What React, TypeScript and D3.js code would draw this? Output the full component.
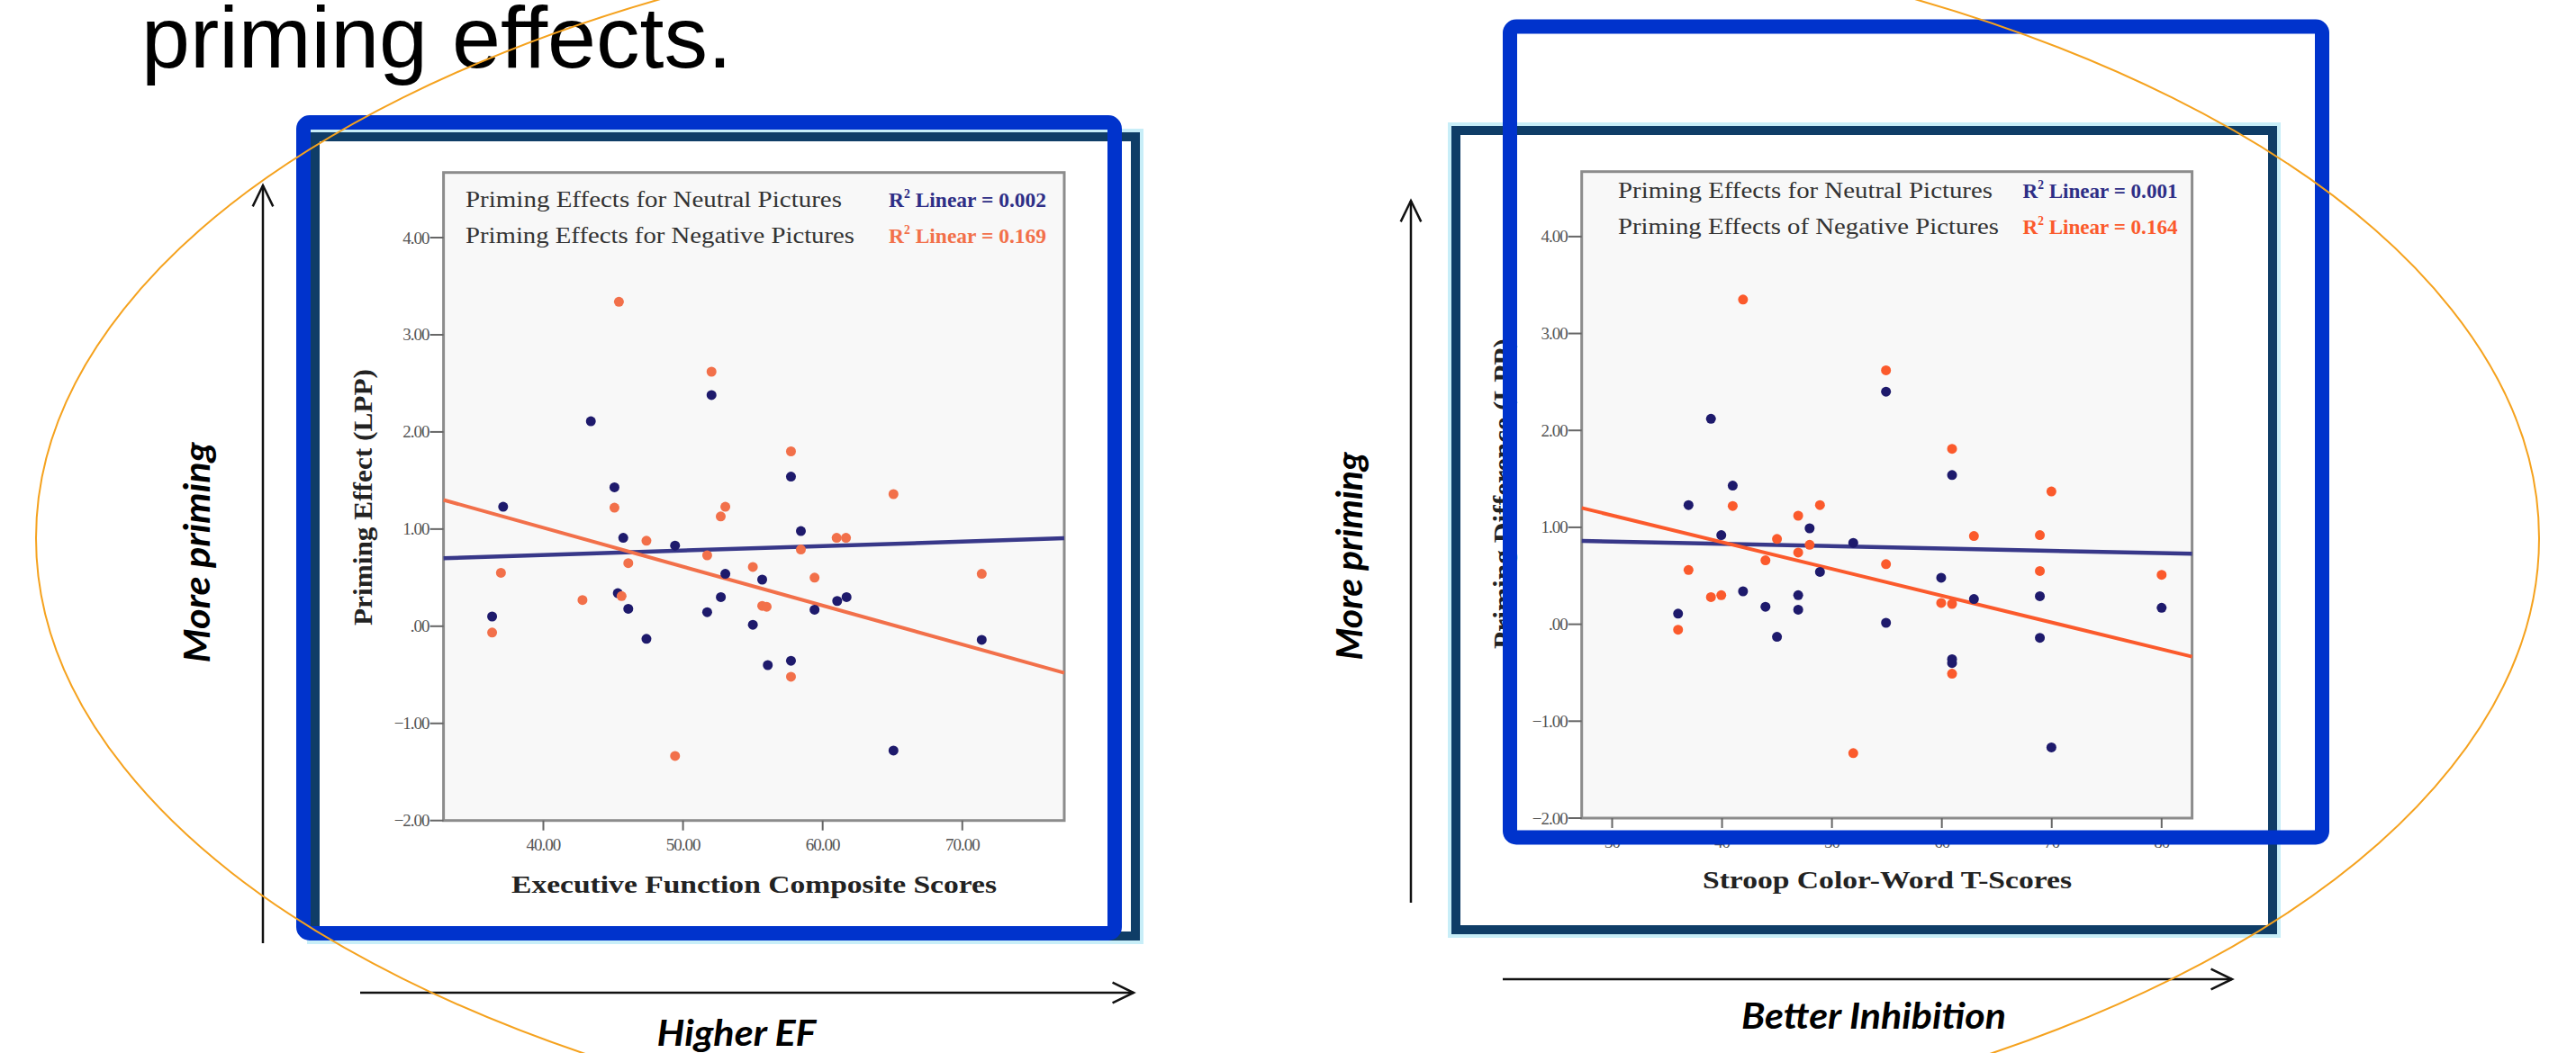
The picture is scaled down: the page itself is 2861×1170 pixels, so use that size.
import React from "react";
import * as d3 from "d3";

// values (x = score, y = LPP priming effect)
const efNeutral: [number, number][] = [
  [43.4, 2.11], [52.04, 2.38], [57.73, 1.54], [45.09, 1.43], [37.12, 1.23], [45.72, 0.91],
  [49.43, 0.83], [58.44, 0.98], [53.03, 0.54], [55.67, 0.48], [45.33, 0.34], [52.71, 0.3],
  [61.71, 0.3], [61.04, 0.26], [46.08, 0.18], [51.73, 0.145], [59.42, 0.17], [36.33, 0.1],
  [55.0, 0.015], [47.38, -0.13], [71.39, -0.14], [56.07, -0.4], [57.73, -0.355], [65.07, -1.28],
];
const efNegative: [number, number][] = [
  [45.41, 3.34], [52.04, 2.62], [57.73, 1.8], [45.09, 1.22], [53.03, 1.23], [52.7, 1.13],
  [65.07, 1.36], [47.38, 0.88], [51.73, 0.73], [61.0, 0.91], [61.67, 0.91], [58.44, 0.79],
  [36.96, 0.55], [46.08, 0.65], [55.0, 0.61], [59.42, 0.5], [42.8, 0.27], [45.6, 0.31],
  [55.67, 0.21], [55.99, 0.2], [36.33, -0.065], [57.73, -0.52], [49.43, -1.335], [71.39, 0.54],
];
const stroopNeutral: [number, number][] = [
  [38.99, 2.12], [54.92, 2.4], [60.93, 1.54], [40.97, 1.43], [36.95, 1.23], [47.97, 0.99],
  [39.93, 0.92], [51.94, 0.84], [48.91, 0.54], [59.94, 0.48], [41.91, 0.34], [46.93, 0.3],
  [68.92, 0.29], [62.92, 0.26], [43.95, 0.18], [46.93, 0.15], [80.0, 0.17], [36.0, 0.11],
  [54.92, 0.015], [45.0, -0.13], [68.92, -0.14], [60.93, -0.36], [60.93, -0.4], [69.97, -1.27],
];
const stroopNegative: [number, number][] = [
  [41.91, 3.35], [54.92, 2.62], [60.93, 1.81], [40.97, 1.22], [48.91, 1.23], [46.93, 1.12],
  [69.97, 1.37], [45.0, 0.88], [62.92, 0.91], [68.92, 0.92], [47.97, 0.82], [46.93, 0.74],
  [36.95, 0.56], [43.95, 0.66], [54.92, 0.62], [68.92, 0.55], [80.0, 0.51], [38.99, 0.28],
  [39.93, 0.3], [59.94, 0.22], [60.93, 0.21], [36.0, -0.056], [60.93, -0.51], [51.94, -1.33],
];

// fit lines: value at the left and right end of the x domain
const efFitNeutral = [0.7, 0.905];
const efFitNegative = [1.3, -0.48];
const stroopFitNeutral = [0.86, 0.727];
const stroopFitNegative = [1.2, -0.334];

const efDomain = [32.85, 77.3];
const stroopDomain = [27.23, 82.77];
const yDomain = [-2, 4.67];
const yTicks = [-2, -1, 0, 1, 2, 3, 4];
const efTicks = [40, 50, 60, 70];
const stroopTicks = [30, 40, 50, 60, 70, 80];

const SERIF = "'Liberation Serif', 'Times New Roman', serif";
const NAVY_DOT = "#1e1a6c";
const NAVY_LINE = "#383889";

const fmtY = (v: number) => (v === 0 ? ".00" : d3.format(".2f")(v));

type PanelProps = {
  box: { l: number; t: number; r: number; b: number };
  xDomain: number[];
  xTicks: number[];
  xFmt: (v: number) => string;
  neutral: [number, number][];
  negative: [number, number][];
  fitN: number[];
  fitNeg: number[];
  orange: string;
  legend: string[];
  r2: string[];
  legendX: number;
  legendY: number[];
  r2X: number;
  r2W: number;
  legendW: number[];
  xTitle: string;
  xTitlePos: [number, number, number];
  yTitle: string;
  yTitlePos: [number, number, number];
};

function Panel(p: PanelProps) {
  const { box } = p;
  const x = d3.scaleLinear().domain(p.xDomain).range([box.l, box.r]);
  const y = d3.scaleLinear().domain(yDomain).range([box.b, box.t]);
  const line = d3
    .line<[number, number]>()
    .x((d) => x(d[0]))
    .y((d) => y(d[1]));
  const fit = (v: number[]) =>
    line([
      [p.xDomain[0], v[0]],
      [p.xDomain[1], v[1]],
    ]) as string;

  return (
    <g>
      <rect x={box.l} y={box.t} width={box.r - box.l} height={box.b - box.t} fill="#f8f8f8" stroke="#8c8c8c" strokeWidth={3} />
      {yTicks.map((v) => (
        <g key={"y" + v}>
          <line x1={box.l - 15} x2={box.l} y1={y(v)} y2={y(v)} stroke="#666" strokeWidth={2} />
          <text x={box.l - 16} y={y(v) + 6.5} textAnchor="end" fontFamily={SERIF} fontSize={19} fill="#555" letterSpacing={-1}>
            {fmtY(v)}
          </text>
        </g>
      ))}
      {p.xTicks.map((v) => (
        <g key={"x" + v}>
          <line x1={x(v)} x2={x(v)} y1={box.b} y2={box.b + 11} stroke="#666" strokeWidth={2} />
          <text x={x(v)} y={box.b + 33} textAnchor="middle" fontFamily={SERIF} fontSize={19} fill="#555" letterSpacing={-1}>
            {p.xFmt(v)}
          </text>
        </g>
      ))}
      <path d={fit(p.fitN)} stroke={NAVY_LINE} strokeWidth={4.5} fill="none" />
      <path d={fit(p.fitNeg)} stroke={p.orange} strokeWidth={4} fill="none" />
      {p.neutral.map((d, i) => (
        <circle key={"n" + i} cx={x(d[0])} cy={y(d[1])} r={5.5} fill={NAVY_DOT} />
      ))}
      {p.negative.map((d, i) => (
        <circle key={"o" + i} cx={x(d[0])} cy={y(d[1])} r={5.5} fill={p.orange} />
      ))}
      {p.legend.map((s, i) => (
        <text key={"l" + i} x={p.legendX} y={p.legendY[i]} fontFamily={SERIF} fontSize={26} fill="#333"
          textLength={p.legendW[i]} lengthAdjust="spacingAndGlyphs">
          {s}
        </text>
      ))}
      {p.r2.map((s, i) => (
        <text key={"r" + i} x={p.r2X} y={p.legendY[i]} fontFamily={SERIF} fontSize={24} fontWeight="bold"
          fill={i === 0 ? "#2e2e86" : p.orange} textLength={p.r2W} lengthAdjust="spacingAndGlyphs">
          R<tspan fontSize={14} dy={-10}>2</tspan>
          <tspan dy={10}> Linear = {s}</tspan>
        </text>
      ))}
      <text x={p.xTitlePos[0]} y={p.xTitlePos[1]} textAnchor="middle" fontFamily={SERIF} fontSize={28}
        fontWeight="bold" fill="#222" textLength={p.xTitlePos[2]} lengthAdjust="spacingAndGlyphs">
        {p.xTitle}
      </text>
      <text transform={`translate(${p.yTitlePos[0]},${p.yTitlePos[1]}) rotate(-90)`} textAnchor="middle"
        fontFamily={SERIF} fontSize={29} fontWeight="bold" fill="#222" textLength={p.yTitlePos[2]}
        lengthAdjust="spacingAndGlyphs">
        {p.yTitle}
      </text>
    </g>
  );
}

function Arrow({ x1, y1, x2, y2 }: { x1: number; y1: number; x2: number; y2: number }) {
  const a = Math.atan2(y2 - y1, x2 - x1);
  const len = 26;
  const sp = 0.45;
  const h1 = [x2 - len * Math.cos(a - sp), y2 - len * Math.sin(a - sp)];
  const h2 = [x2 - len * Math.cos(a + sp), y2 - len * Math.sin(a + sp)];
  return (
    <g stroke="#111" strokeWidth={2.5} fill="none">
      <line x1={x1} y1={y1} x2={x2} y2={y2} />
      <polyline points={`${h1[0]},${h1[1]} ${x2},${y2} ${h2[0]},${h2[1]}`} />
    </g>
  );
}

const LABEL_FONT = "Lato, 'Open Sans', sans-serif";

export default function App() {
  return (
    <svg width={2861} height={1170} style={{ position: "absolute", left: 0, top: 0, background: "#fff" }}>
      <text x={157} y={75} fontFamily="'Liberation Sans', Arial, sans-serif" fontSize={97} fill="#000">
        priming effects.
      </text>

      {/* left figure */}
      <rect x={350} y={152} width={911} height={888} fill="#fff" stroke="#c8eef8" strokeWidth={18} />
      <rect x={350} y={152} width={911} height={888} fill="#fff" stroke="#0f3d67" strokeWidth={10} />
      <Panel
        box={{ l: 492.6, t: 191.7, r: 1182, b: 911.7 }}
        xDomain={efDomain}
        xTicks={efTicks}
        xFmt={(v) => d3.format(".2f")(v)}
        neutral={efNeutral}
        negative={efNegative}
        fitN={efFitNeutral}
        fitNeg={efFitNegative}
        orange="#f2704a"
        legend={["Priming Effects for Neutral Pictures", "Priming Effects for Negative Pictures"]}
        r2={["0.002", "0.169"]}
        legendX={517}
        legendY={[230, 270]}
        legendW={[418, 432]}
        r2X={987}
        r2W={175}
        xTitle="Executive Function Composite Scores"
        xTitlePos={[837.5, 992, 539]}
        yTitle="Priming Effect (LPP)"
        yTitlePos={[413, 552.5, 285]}
      />
      <rect x={337} y={136} width={901} height={901} rx={7} fill="none" stroke="#0033cc" strokeWidth={16} />

      {/* right figure */}
      <rect x={1617} y={145} width={907} height={888} fill="#fff" stroke="#c8eef8" strokeWidth={18} />
      <rect x={1617} y={145} width={907} height={888} fill="#fff" stroke="#0f3d67" strokeWidth={10} />
      <Panel
        box={{ l: 1756.7, t: 190.7, r: 2434.6, b: 909 }}
        xDomain={stroopDomain}
        xTicks={stroopTicks}
        xFmt={(v) => String(v)}
        neutral={stroopNeutral}
        negative={stroopNegative}
        fitN={stroopFitNeutral}
        fitNeg={stroopFitNegative}
        orange="#fb5a2c"
        legend={["Priming Effects for Neutral Pictures", "Priming Effects of Negative Pictures"]}
        r2={["0.001", "0.164"]}
        legendX={1797}
        legendY={[220, 260]}
        legendW={[416, 423]}
        r2X={2246.5}
        r2W={172}
        xTitle="Stroop Color-Word T-Scores"
        xTitlePos={[2096, 987, 410]}
        yTitle="Priming Difference (LPP)"
        yTitlePos={[1679, 548.5, 345]}
      />
      <rect x={1677} y={29.5} width={902} height={901} rx={7} fill="none" stroke="#0033cc" strokeWidth={16} />

      {/* direction arrows */}
      <Arrow x1={292} y1={1048} x2={292} y2={206} />
      <Arrow x1={400} y1={1103} x2={1259} y2={1103} />
      <Arrow x1={1567} y1={1003} x2={1567} y2={223} />
      <Arrow x1={1669} y1={1088} x2={2479} y2={1088} />
      <text transform="translate(233,614) rotate(-90)" textAnchor="middle" fontFamily={LABEL_FONT} fontSize={40}
        fontWeight="bold" fontStyle="italic" textLength={245} lengthAdjust="spacingAndGlyphs">
        More priming
      </text>
      <text transform="translate(1513,618) rotate(-90)" textAnchor="middle" fontFamily={LABEL_FONT} fontSize={40}
        fontWeight="bold" fontStyle="italic" textLength={231} lengthAdjust="spacingAndGlyphs">
        More priming
      </text>
      <text x={818} y={1162} textAnchor="middle" fontFamily={LABEL_FONT} fontSize={40} fontWeight="bold"
        fontStyle="italic" textLength={177} lengthAdjust="spacingAndGlyphs">
        Higher EF
      </text>
      <text x={2081} y={1143} textAnchor="middle" fontFamily={LABEL_FONT} fontSize={40} fontWeight="bold"
        fontStyle="italic" textLength={294} lengthAdjust="spacingAndGlyphs">
        Better Inhibition
      </text>

      <ellipse cx={1430} cy={598} rx={1390} ry={692} fill="none" stroke="#f5a21e" strokeWidth={2} />
    </svg>
  );
}
